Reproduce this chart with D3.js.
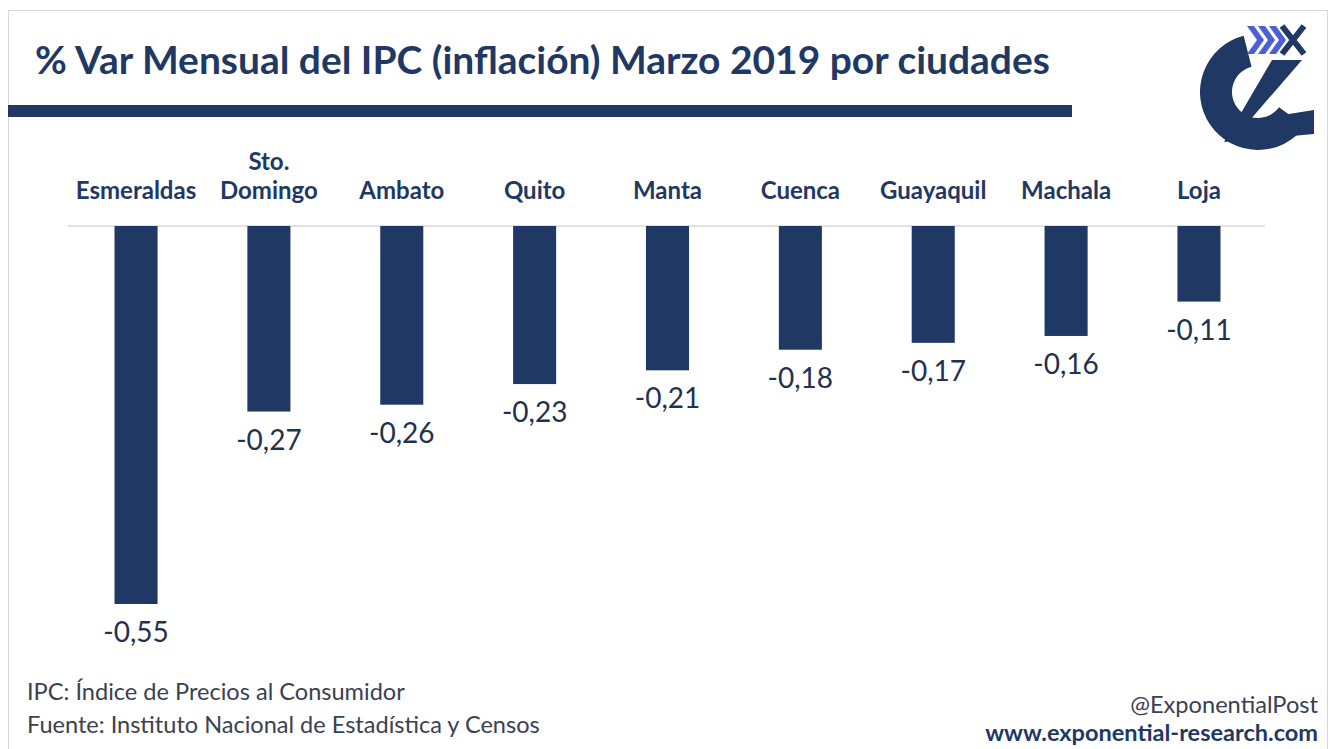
<!DOCTYPE html>
<html>
<head>
<meta charset="utf-8">
<script src="https://cdn.jsdelivr.net/npm/d3@7"></script>
<style>
  body { margin: 0; background: #fff; }
  svg { display: block; font-family: Lato, "Open Sans", sans-serif; }
</style>
</head>
<body>
<div id="chart"></div>
<script>
const cities = ["Esmeraldas", "Sto. Domingo", "Ambato", "Quito", "Manta", "Cuenca", "Guayaquil", "Machala", "Loja"];
const values = [-0.55, -0.27, -0.26, -0.23, -0.21, -0.18, -0.17, -0.16, -0.11];

const titleText = "% Var Mensual del IPC (inflación) Marzo 2019 por ciudades";
const notes = ["IPC: Índice de Precios al Consumidor", "Fuente: Instituto Nacional de Estadística y Censos"];
const credits = ["@ExponentialPost", "www.exponential-research.com"];

const width = 1333;
const height = 749;
const navy = "#1f3864";
const textNavy = "#22314f";

const svg = d3.select("#chart")
  .append("svg")
  .attr("width", width)
  .attr("height", height);

// frame
svg.append("rect")
  .attr("x", 8.5).attr("y", 10.5)
  .attr("width", 1319).attr("height", 760)
  .attr("fill", "none")
  .attr("stroke", "#d6d6d6");

// shrink/grow text so it spans a given width
function fit(sel, target) {
  const size = parseFloat(sel.style("font-size"));
  const w = sel.node().getComputedTextLength();
  sel.style("font-size", (size * target / w) + "px");
}

const title = svg.append("text")
  .attr("x", 35)
  .attr("y", 74)
  .attr("fill", navy)
  .style("font-size", "30px")
  .style("font-weight", "700")
  .text(titleText);
fit(title, 1015);

svg.append("rect")
  .attr("x", 8).attr("y", 105)
  .attr("width", 1064).attr("height", 12)
  .attr("fill", navy);

// logo
const logo = svg.append("g").attr("transform", "translate(1258,92)");
const ring = d3.arc()
  .innerRadius(26)
  .outerRadius(58)
  .startAngle(-0.25)
  .endAngle(-Math.PI * 2 + 2.2);
logo.append("path")
  .attr("d", ring())
  .attr("fill", navy);
logo.append("path")
  .attr("d", "M14,-32 L44,-32 L-8,28 L56,18 L56,42 L-34,50 Z")
  .attr("fill", navy);
[0, 11, 22].forEach(dx => {
  logo.append("path")
    .attr("d", `M${-11 + dx},-66 L${-4 + dx},-66 L${6 + dx},-52 L${-4 + dx},-38 L${-11 + dx},-38 L${-1 + dx},-52 Z`)
    .attr("fill", "#4b5fd6");
});
logo.append("path")
  .attr("d", "M24,-66 L46,-38 M46,-66 L24,-38")
  .attr("stroke", navy)
  .attr("stroke-width", 6);

// chart
const x = d3.scaleBand()
  .domain(cities)
  .range([69.6, 1265.4])
  .paddingInner(0.676)
  .paddingOuter(0.338);

const y = d3.scaleLinear()
  .domain([-0.55, 0])
  .range([604, 226]);

svg.append("line")
  .attr("x1", 68).attr("x2", 1265)
  .attr("y1", y(0)).attr("y2", y(0))
  .attr("stroke", "#d9d9d9")
  .attr("stroke-width", 1.5);

svg.selectAll(".bar")
  .data(values)
  .join("rect")
  .attr("class", "bar")
  .attr("x", (d, i) => x(cities[i]))
  .attr("y", y(0))
  .attr("width", x.bandwidth())
  .attr("height", d => y(d) - y(0))
  .attr("fill", navy);

const fmt = d => d3.format(".2f")(d).replace(".", ",").replace("−", "-");

svg.selectAll(".val")
  .data(values)
  .join("text")
  .attr("class", "val")
  .attr("x", (d, i) => x(cities[i]) + x.bandwidth() / 2)
  .attr("y", d => y(d) + 38)
  .attr("text-anchor", "middle")
  .attr("fill", textNavy)
  .style("font-size", "28px")
  .text(fmt);

// category labels, wrapped to two lines when too wide
const cats = svg.selectAll(".cat")
  .data(cities)
  .join("text")
  .attr("class", "cat")
  .attr("x", d => x(d) + x.bandwidth() / 2)
  .attr("y", 199)
  .attr("text-anchor", "middle")
  .attr("fill", navy)
  .style("font-size", "24px")
  .style("font-weight", "700")
  .text(d => d);

cats.each(function (d) {
  const t = d3.select(this);
  const words = d.split(" ");
  if (words.length > 1 && this.getComputedTextLength() > x.step() * 0.9) {
    t.text(null);
    const cx = t.attr("x");
    words.forEach((w, i) => {
      t.append("tspan")
        .attr("x", cx)
        .attr("y", 199 - (words.length - 1 - i) * 29)
        .text(w);
    });
  }
});

// notes
const noteWidths = [378, 513];
notes.forEach((n, i) => {
  const t = svg.append("text")
    .attr("x", 27)
    .attr("y", 700 + i * 33)
    .attr("fill", "#3a4150")
    .style("font-size", "20px")
    .text(n);
  fit(t, noteWidths[i]);
});

const c1 = svg.append("text")
  .attr("x", 1318)
  .attr("y", 713)
  .attr("text-anchor", "end")
  .attr("fill", "#3a4150")
  .style("font-size", "20px")
  .text(credits[0]);
fit(c1, 188);

const c2 = svg.append("text")
  .attr("x", 1318)
  .attr("y", 741)
  .attr("text-anchor", "end")
  .attr("fill", navy)
  .style("font-size", "21px")
  .style("font-weight", "700")
  .text(credits[1]);
fit(c2, 333);
</script>
</body>
</html>
